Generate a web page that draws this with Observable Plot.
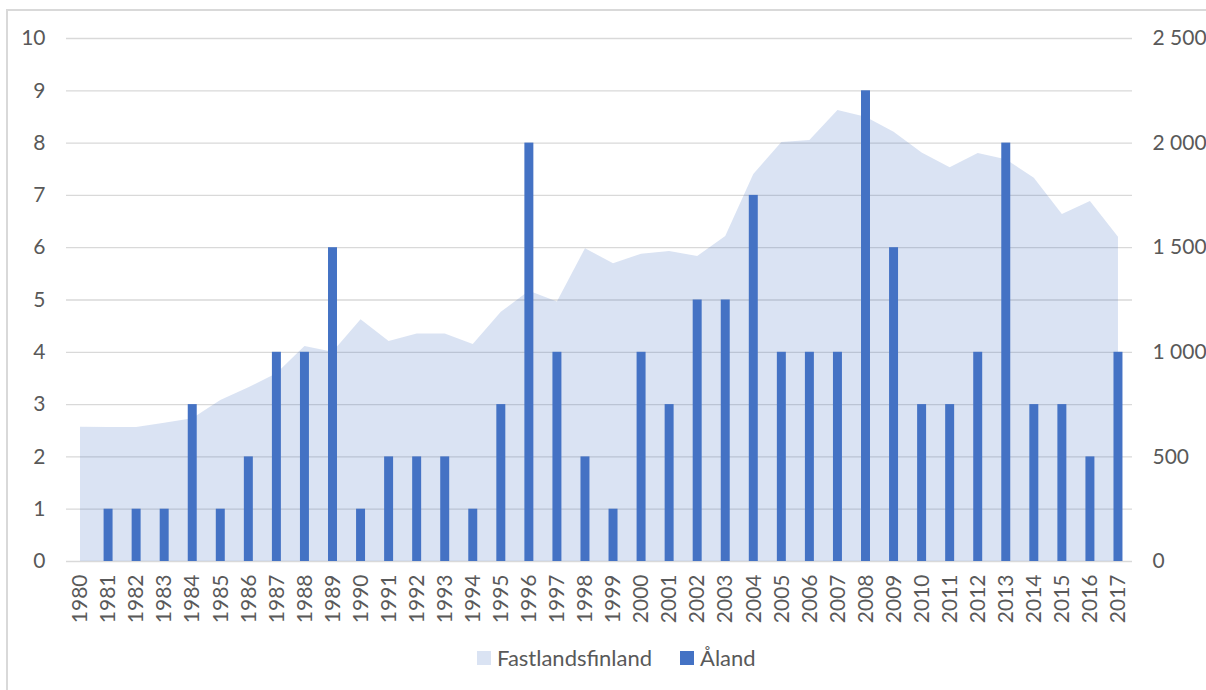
<!DOCTYPE html>
<html>
<head>
<meta charset="utf-8">
<script src="https://cdn.jsdelivr.net/npm/d3@7"></script>
<script src="https://cdn.jsdelivr.net/npm/@observablehq/plot@0.6"></script>
<style>
  html, body { margin: 0; padding: 0; background: #fff; }
  #wrap { position: relative; width: 1206px; height: 690px; overflow: hidden; font-family: Lato, "Noto Sans", sans-serif; }
  #frame { position: absolute; left: 6px; top: 9px; width: 1220px; height: 700px; border: 2px solid #d9d9d9; box-sizing: border-box; }
  #chart { position: absolute; left: 0; top: 0; }
  #legend { position: absolute; left: 477px; top: 645px; height: 26px; display: flex; align-items: center; font-size: 22px; line-height: 26px; color: #595959; white-space: nowrap; }
  .sw { width: 14px; height: 14px; display: inline-block; margin-right: 6px; }
  .item { display: flex; align-items: center; margin-right: 28px; }
</style>
</head>
<body>
<div id="wrap">
  <div id="frame"></div>
  <div id="chart"></div>
  <div id="legend"></div>
</div>
<script>
const years = [1980,1981,1982,1983,1984,1985,1986,1987,1988,1989,
               1990,1991,1992,1993,1994,1995,1996,1997,1998,1999,
               2000,2001,2002,2003,2004,2005,2006,2007,2008,2009,
               2010,2011,2012,2013,2014,2015,2016,2017];
// Fastlandsfinland (right axis)
const fastland = [642,641,641,661,682,770,830,897,1028,1000,
                  1155,1052,1088,1088,1037,1191,1292,1240,1495,1423,
                  1469,1482,1458,1554,1850,2003,2013,2156,2124,2052,
                  1953,1882,1950,1920,1832,1659,1721,1550];
// Åland (left axis)
const aland = [0,1,1,1,3,1,2,4,4,6,
               1,2,2,2,1,3,8,4,2,1,
               4,3,5,5,7,4,4,4,9,6,
               3,3,4,8,3,3,2,4];
const leftTicks = [0,1,2,3,4,5,6,7,8,9,10];
const rightTicks = [0,500,1000,1500,2000,2500];
const rightLabels = ["0","500","1 000","1 500","2 000","2 500"];
const seriesNames = ["Fastlandsfinland","Åland"];
const seriesColors = ["#dae3f3","#4472c4"];

const ratio = 2500 / 10; // right-axis units per left-axis unit
const data = years.map((y, i) => ({year: String(y), fast: fastland[i], aland: aland[i]}));

const chart = Plot.plot({
  width: 1206,
  height: 640,
  marginLeft: 66,
  marginRight: 74,
  marginTop: 38,
  marginBottom: 79,
  style: {fontFamily: "Lato, 'Noto Sans', sans-serif", fontSize: "21px", color: "#595959", background: "transparent"},
  x: {type: "band", domain: years.map(String), paddingInner: 0.68, paddingOuter: 0.34, round: false},
  y: {domain: [0, 10]},
  marks: [
    Plot.ruleY(leftTicks, {stroke: "#d9d9d9", strokeWidth: 1.3}),
    Plot.areaY(data, {x: "year", y: d => d.fast / ratio, fill: "#4472c4", fillOpacity: 0.2, curve: "linear"}),
    Plot.barY(data, {x: "year", y: "aland", fill: "#4472c4"}),
    Plot.axisY(leftTicks, {anchor: "left", tickSize: 0, tickPadding: 21, label: null, fill: "#595959", tickFormat: d => String(d)}),
    Plot.axisY(rightTicks.map(v => v / ratio), {anchor: "right", tickSize: 0, tickPadding: 20, label: null, fill: "#595959",
      tickFormat: (d) => rightLabels[rightTicks.indexOf(Math.round(d * ratio))]}),
    Plot.axisX({tickRotate: -90, tickSize: 0, tickPadding: 13, label: null, fill: "#595959"})
  ]
});
document.getElementById("chart").appendChild(chart);

const legend = document.getElementById("legend");
seriesNames.forEach((name, i) => {
  const item = document.createElement("div");
  item.className = "item";
  const sw = document.createElement("span");
  sw.className = "sw";
  sw.style.background = seriesColors[i];
  const t = document.createElement("span");
  t.textContent = name;
  item.appendChild(sw);
  item.appendChild(t);
  legend.appendChild(item);
});
</script>
</body>
</html>
